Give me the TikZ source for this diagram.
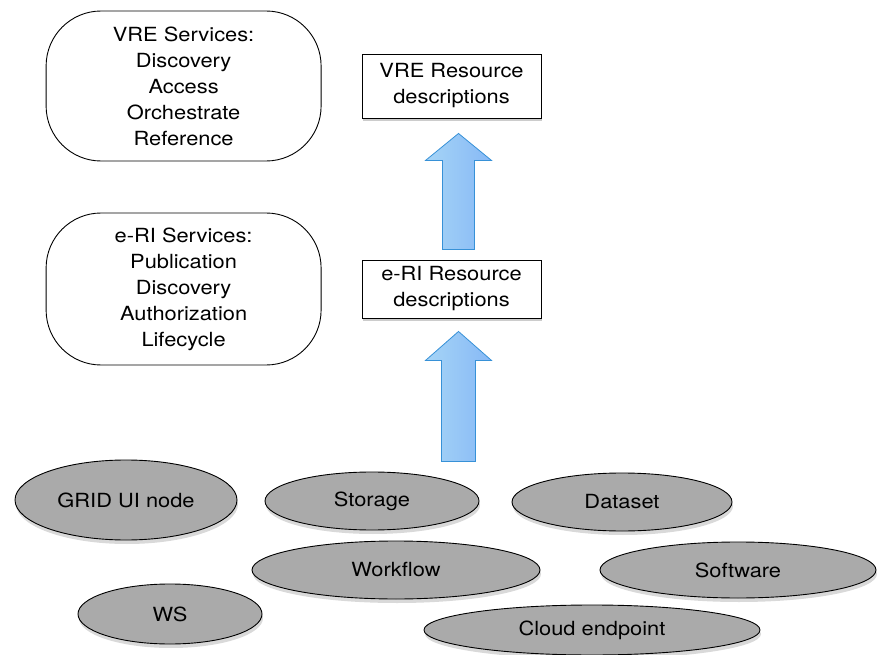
\documentclass[tikz,border=0pt]{standalone}
\usepackage{fontspec}
\setmainfont[FakeStretch=1.12]{TeX Gyre Heros}
\usetikzlibrary{shapes.geometric,shadows,positioning,calc}

\definecolor{itemgray}{RGB}{170,170,170}
\definecolor{arrowfill}{RGB}{150,205,245}
\definecolor{arrowedge}{RGB}{55,145,215}

\tikzset{
  txt/.style={align=center, font=\fontsize{19.5}{26}\selectfont},
  service/.style={txt, draw, line width=0.9pt, fill=white, rounded corners=55pt, minimum width=275pt},
  resource/.style={txt, draw, line width=0.9pt, fill=white, minimum width=179pt, minimum height=60pt,
    drop shadow={shadow xshift=1pt, shadow yshift=-3pt, opacity=0.4}},
  item/.style={txt, ellipse, draw, line width=0.9pt, fill=itemgray, inner sep=0pt,
    drop shadow={shadow xshift=1pt, shadow yshift=-4pt, opacity=0.3}},
  blockarrow/.style={draw=arrowedge, line width=0.8pt, left color=arrowfill!85!white, right color=arrowfill!90!blue}
}

\begin{document}
\begin{tikzpicture}[x=1pt,y=1pt]
\useasboundingbox (0,0) rectangle (878,654);

% resource descriptions
\node[resource, minimum height=64pt] (vreRes) at (451.5,568) {VRE Resource\\descriptions};
\node[resource, minimum height=58pt] (eriRes) at (451.5,365) {e-RI Resource\\descriptions};

% services
\node[service, minimum height=150pt, left=40pt of vreRes] (vreServ)
  {VRE Services:\\Discovery\\Access\\Orchestrate\\Reference};
\node[service, minimum height=152pt, left=40pt of eriRes] (eriServ)
  {e-RI Services:\\Publication\\Discovery\\Authorization\\Lifecycle};

% resources
\node[item, minimum width=222pt, minimum height=80pt] (grid) at (126,154) {GRID UI node};
\node[item, minimum width=214pt, minimum height=58pt] (storage) at (372,153) {Storage};
\node[item, minimum width=220pt, minimum height=58pt] (dataset) at (622,152) {Dataset};
\node[item, minimum width=288pt, minimum height=58pt] (workflow) at (396,84) {Workflow};
\node[item, minimum width=276pt, minimum height=56pt] (software) at (738,84) {Software};
\node[item, minimum width=184pt, minimum height=60pt] (ws) at (170,40) {WS};
\node[item, minimum width=336pt, minimum height=50pt] (cloud) at (592,24) {Cloud endpoint};

% block arrows
\draw[blockarrow] let \p1=($(eriRes.north)+(7,10)$), \p2=($(vreRes.south)+(7,-15)$) in
  (\x1-16pt,\y1) -- (\x1+16pt,\y1) -- (\x1+16pt,\y2-27pt) -- (\x1+33pt,\y2-27pt)
  -- (\x1,\y2) -- (\x1-33pt,\y2-27pt) -- (\x1-16pt,\y2-27pt) -- cycle;
\draw[blockarrow] let \p1=($(eriRes.south |- storage.north)+(7,10)$), \p2=($(eriRes.south)+(7,-13)$) in
  (\x1-17pt,\y1) -- (\x1+17pt,\y1) -- (\x1+17pt,\y2-29pt) -- (\x1+33pt,\y2-29pt)
  -- (\x1,\y2) -- (\x1-33pt,\y2-29pt) -- (\x1-17pt,\y2-29pt) -- cycle;
\end{tikzpicture}
\end{document}
